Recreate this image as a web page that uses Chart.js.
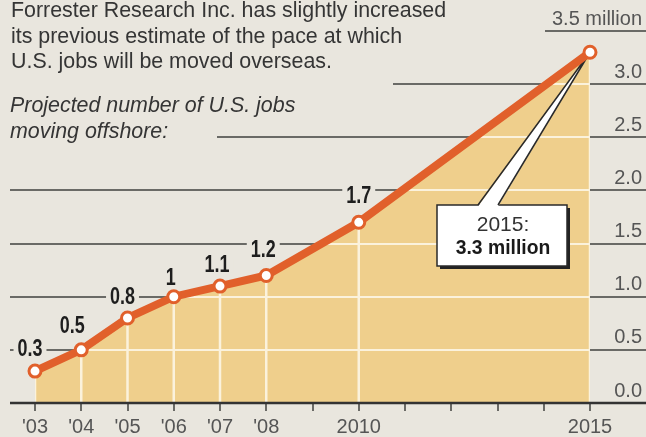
<!DOCTYPE html>
<html>
<head>
<meta charset="utf-8">
<script src="https://cdn.jsdelivr.net/npm/chart.js@4.4.1/dist/chart.umd.min.js"></script>
<style>
  html, body { margin: 0; padding: 0; background: #e9e6de; }
  #wrap { position: relative; width: 646px; height: 437px; overflow: hidden; }
  #chart { position: absolute; left: 0; top: 0; }
  .note {
    position: absolute; left: 11px; white-space: nowrap;
    font-family: 'Liberation Sans', Arial, sans-serif;
    font-size: 21.4px; line-height: 25.5px; color: #353535;
  }
  #headline { top: -2px; }
  #subhead { top: 93px; left: 10px; font-style: italic; }
</style>
</head>
<body>
<div id="wrap">
  <canvas id="chart" width="646" height="437"></canvas>
  <div class="note" id="headline">Forrester Research Inc. has slightly increased<br>its previous estimate of the pace at which<br>U.S. jobs will be moved overseas.</div>
  <div class="note" id="subhead">Projected number of U.S. jobs<br>moving offshore:</div>
</div>
<script>
// Offshore jobs projection (millions)
const years = [2003, 2004, 2005, 2006, 2007, 2008, 2010, 2015];
const jobs = [0.3, 0.5, 0.8, 1.0, 1.1, 1.2, 1.7, 3.3];
const pointLabels = ['0.3', '0.5', '0.8', '1', '1.1', '1.2', '1.7'];

// axis ticks
const tickYears = [2003, 2004, 2005, 2006, 2007, 2008, 2010, 2015];
const tickText = ["'03", "'04", "'05", "'06", "'07", "'08", '2010', '2015'];
const yTicks = [0, 0.5, 1, 1.5, 2, 2.5, 3, 3.5];
const yTickText = ['0.0', '0.5', '1.0', '1.5', '2.0', '2.5', '3.0', '3.5 million'];

// layout bits
const ruleStart = [10, 10, 10, 10, 10, 217, 393, 545];   // where each dark rule begins
const labelShift = [[-5, -22], [-9, -24], [-5, -21], [-3, -19], [-3, -21], [-3, -26], [0, -27]];
const callout = { left: 437, top: 205, width: 130, height: 61, baseA: 478, baseB: 498 };

const BG = '#e9e6de';
const FILL = '#efcf8c';
const LIGHT = '#fbf2dc';
const ORANGE = '#e1602b';
const RULE = '#6a6a66';
const INK = '#2a2a2a';
const SANS = '"Liberation Sans", Arial, sans-serif';

const points = years.map((yr, i) => ({ x: yr, y: jobs[i] }));

function condensedText(ctx, text, x, y, squeeze) {
    ctx.save();
    ctx.translate(x, y);
    ctx.scale(squeeze, 1);
    ctx.fillText(text, 0, 0);
    ctx.restore();
}

const decor = {
    id: 'decor',
    // dark rules, mostly hidden under the filled area
    beforeDatasetsDraw(chart) {
        const { ctx, scales: { y } } = chart;
        ctx.save();
        ctx.strokeStyle = RULE;
        ctx.lineWidth = 2;
        yTicks.forEach((v, i) => {
            if (v === 0) return;
            const py = Math.round(y.getPixelForValue(v));
            ctx.beginPath();
            ctx.moveTo(ruleStart[i], py);
            ctx.lineTo(chart.width, py);
            ctx.stroke();
        });
        ctx.restore();
    },
    // light grid inside the area + the 2015 callout
    afterDatasetDraw(chart, args) {
        if (args.index !== 1) return;
        const { ctx, scales: { y } } = chart;
        const pts = chart.getDatasetMeta(1).data;
        const base = y.getPixelForValue(0);

        ctx.save();
        ctx.beginPath();
        ctx.moveTo(pts[0].x, base);
        pts.forEach(p => ctx.lineTo(p.x, p.y));
        ctx.lineTo(pts[pts.length - 1].x, base);
        ctx.closePath();
        ctx.clip();
        ctx.strokeStyle = LIGHT;
        ctx.lineWidth = 2;
        yTicks.forEach(v => {
            if (v === 0) return;
            const py = Math.round(y.getPixelForValue(v));
            ctx.beginPath();
            ctx.moveTo(0, py);
            ctx.lineTo(chart.width, py);
            ctx.stroke();
        });
        ctx.lineWidth = 2.5;
        pts.forEach(p => {
            ctx.beginPath();
            ctx.moveTo(p.x, p.y);
            ctx.lineTo(p.x, base);
            ctx.stroke();
        });
        ctx.restore();

        // callout box
        const last = pts[pts.length - 1];
        const c = callout;
        ctx.save();
        ctx.fillStyle = '#222';
        ctx.fillRect(c.left + 3, c.top + 3, c.width, c.height);
        ctx.fillStyle = '#fff';
        ctx.strokeStyle = INK;
        ctx.lineWidth = 1.5;
        ctx.fillRect(c.left, c.top, c.width, c.height);
        ctx.strokeRect(c.left, c.top, c.width, c.height);
        // pointer wedge
        ctx.beginPath();
        ctx.moveTo(last.x, last.y);
        ctx.lineTo(c.baseA, c.top + 1.5);
        ctx.lineTo(c.baseB, c.top + 1.5);
        ctx.closePath();
        ctx.fill();
        ctx.beginPath();
        ctx.moveTo(c.baseA, c.top);
        ctx.lineTo(last.x, last.y);
        ctx.lineTo(c.baseB, c.top);
        ctx.stroke();

        const cx = c.left + c.width / 2 + 1;
        ctx.fillStyle = '#333';
        ctx.textAlign = 'center';
        ctx.textBaseline = 'middle';
        ctx.font = '21px ' + SANS;
        ctx.fillText(years[years.length - 1] + ':', cx, c.top + 20);
        ctx.fillStyle = '#1a1a1a';
        ctx.font = 'bold 21px ' + SANS;
        condensedText(ctx, jobs[jobs.length - 1] + ' million', cx, c.top + 43, 0.92);
        ctx.restore();
    },
    // baseline, right-hand scale text and value labels
    afterDatasetsDraw(chart) {
        const { ctx, scales: { y } } = chart;
        const base = y.getPixelForValue(0);
        ctx.save();
        ctx.strokeStyle = '#333';
        ctx.lineWidth = 2.5;
        ctx.beginPath();
        ctx.moveTo(10, base);
        ctx.lineTo(chart.width, base);
        ctx.stroke();

        ctx.fillStyle = '#555';
        ctx.font = '20px ' + SANS;
        ctx.textAlign = 'right';
        ctx.textBaseline = 'middle';
        y.ticks.forEach(t => {
            const k = yTicks.indexOf(t.value);
            if (k < 0) return;
            ctx.fillText(yTickText[k], chart.width - 4, y.getPixelForValue(t.value) - 12);
        });

        const pts = chart.getDatasetMeta(0).data;
        ctx.font = 'bold 23px ' + SANS;
        ctx.textAlign = 'center';
        pointLabels.forEach((txt, i) => {
            const lx = pts[i].x + labelShift[i][0];
            const ly = pts[i].y + labelShift[i][1];
            const w = ctx.measureText(txt).width * 0.78;
            ctx.fillStyle = BG;
            ctx.fillRect(lx - w / 2 - 4, ly - 7, w + 8, 14);
            ctx.fillStyle = '#1e1e1e';
            condensedText(ctx, txt, lx, ly + 1, 0.78);
        });
        ctx.restore();
    }
};

new Chart(document.getElementById('chart'), {
    type: 'line',
    data: {
        datasets: [
            {
                data: points,
                borderColor: ORANGE,
                borderWidth: 8,
                pointRadius: 6,
                pointBorderWidth: 3,
                pointBackgroundColor: '#fff',
                pointBorderColor: ORANGE,
                fill: false,
                tension: 0,
                clip: false
            },
            {
                data: points,
                borderWidth: 0,
                pointRadius: 0,
                backgroundColor: FILL,
                fill: 'origin',
                tension: 0
            }
        ]
    },
    options: {
        responsive: false,
        animation: false,
        layout: { padding: { left: 35, top: 31, right: 4, bottom: 0 } },
        plugins: { legend: { display: false }, tooltip: { enabled: false } },
        scales: {
            x: {
                type: 'linear',
                min: 2003,
                max: 2015,
                afterFit(s) { s.height = 34; },
                ticks: {
                    stepSize: 1,
                    autoSkip: false,
                    maxRotation: 0,
                    padding: 4,
                    color: '#555',
                    font: { family: SANS, size: 20 },
                    callback(v) {
                        const k = tickYears.indexOf(v);
                        return k < 0 ? '' : tickText[k];
                    }
                },
                grid: { drawOnChartArea: false, tickLength: 8, color: RULE, lineWidth: 2 },
                border: { display: false }
            },
            y: {
                position: 'right',
                min: 0,
                max: 3.5,
                afterFit(s) { s.width = 52; },
                afterBuildTicks(s) { s.ticks = yTicks.map(v => ({ value: v })); },
                ticks: { display: false },
                grid: { display: false },
                border: { display: false }
            }
        }
    },
    plugins: [decor]
});
</script>
</body>
</html>
